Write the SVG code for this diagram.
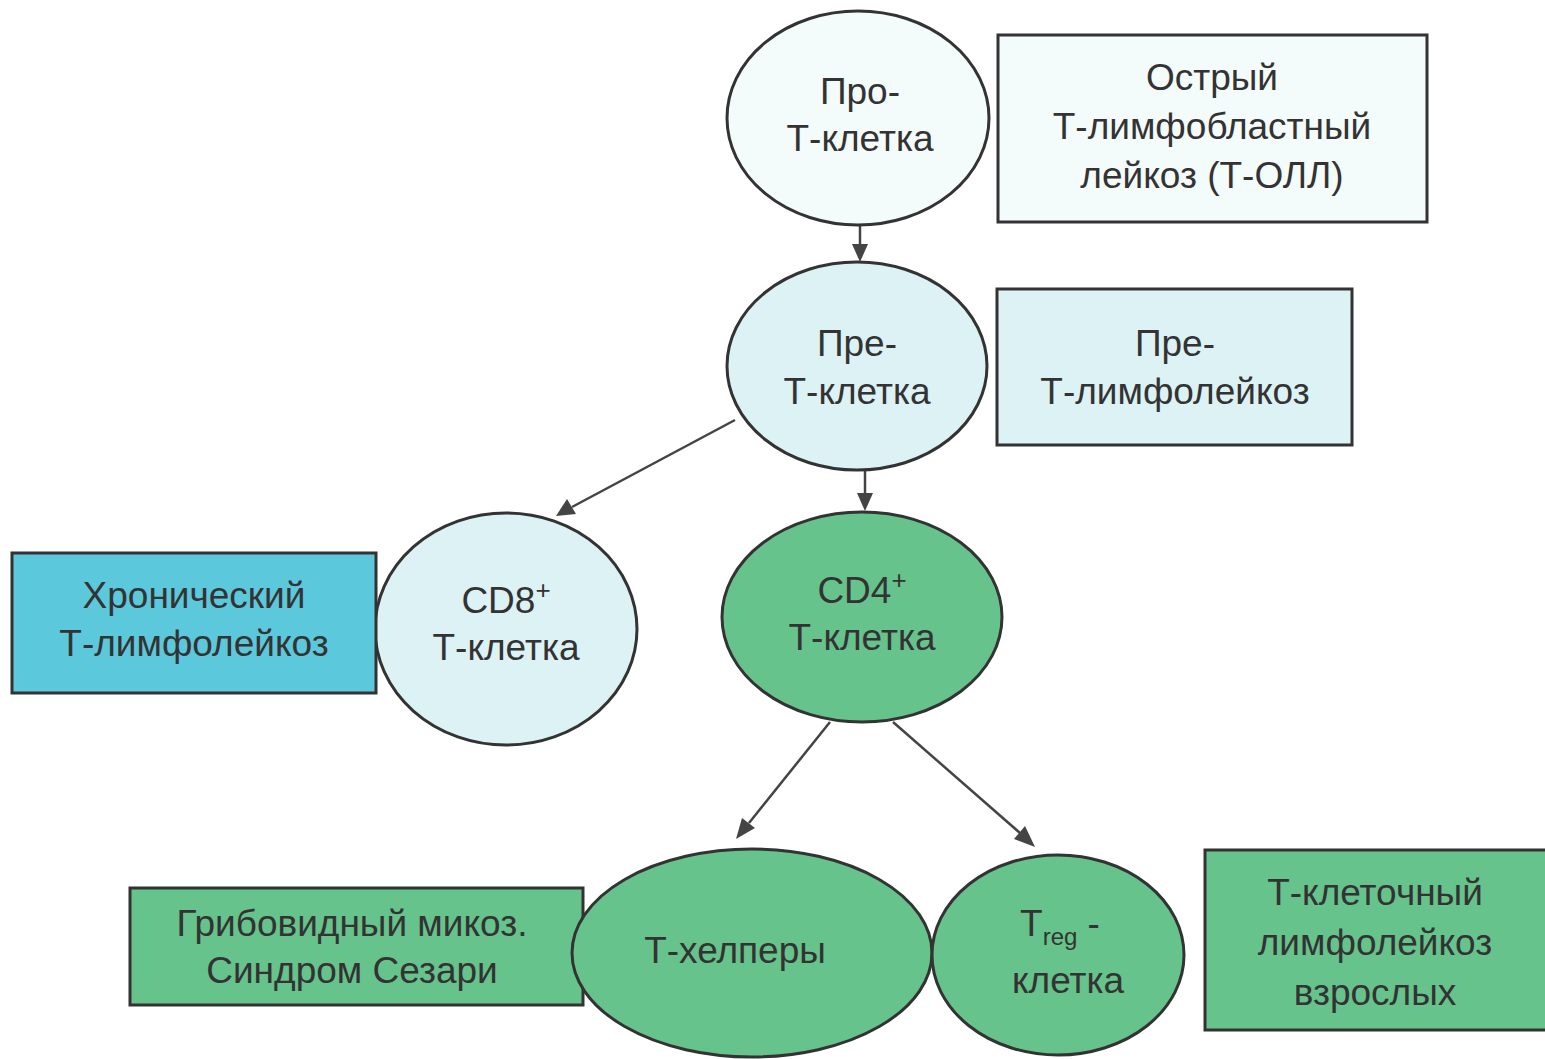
<svg xmlns="http://www.w3.org/2000/svg" width="1545" height="1059" viewBox="0 0 1545 1059">
<defs>
<style>
.t{font-family:"Liberation Sans",Arial,sans-serif;font-size:37px;fill:#333;text-anchor:middle}
.s{stroke:#333;stroke-width:3}
.pale{fill:#f4fbfb}
.lc{fill:#dcf2f4}
.cy{fill:#5cc8dc}
.gr{fill:#66c38b}
.ln{stroke:#444;stroke-width:2.5;fill:none}
.ah{fill:#444}
</style>
</defs>
<rect width="1545" height="1059" fill="#fff"/>
<g id="connectors">
<path class="ln" d="M860,226 L860,246"/>
<path class="ah" d="M852,244 L868,244 L860,262 z"/>
<path class="ln" d="M865,470 L865,495"/>
<path class="ah" d="M857,493 L873,493 L865,511 z"/>
<path class="ln" d="M735,420 L572,507"/>
<path class="ah" d="M556,516 L567,499 L576,514 z"/>
<path class="ln" d="M830,722 L749,823"/>
<path class="ah" d="M736,839 L742,818 L755,828 z"/>
<path class="ln" d="M893,722 L1020,833"/>
<path class="ah" d="M1035,847 L1014,839 L1025,826 z"/>
</g>
<g id="pro-t">
<ellipse class="s pale" cx="858" cy="118" rx="131" ry="107"/>
<text class="t" x="860" y="104">Про-</text>
<text class="t" x="860" y="151">Т-клетка</text>
</g>
<g id="t-all">
<rect class="s pale" x="998" y="35" width="429" height="187"/>
<text class="t" x="1212" y="90">Острый</text>
<text class="t" x="1212" y="139">Т-лимфобластный</text>
<text class="t" x="1212" y="188">лейкоз (Т-ОЛЛ)</text>
</g>
<g id="pre-t">
<ellipse class="s lc" cx="857" cy="366" rx="130" ry="104"/>
<text class="t" x="857" y="356">Пре-</text>
<text class="t" x="857" y="404">Т-клетка</text>
</g>
<g id="pre-t-leuk">
<rect class="s lc" x="997" y="289" width="355" height="156"/>
<text class="t" x="1175" y="356">Пре-</text>
<text class="t" x="1175" y="404">Т-лимфолейкоз</text>
</g>
<g id="cd8">
<ellipse class="s lc" cx="506" cy="629" rx="131" ry="116"/>
<text class="t" x="506" y="613">CD8<tspan dy="-14" font-size="26">+</tspan></text>
<text class="t" x="506" y="660">Т-клетка</text>
</g>
<g id="chronic">
<rect class="s cy" x="12" y="553" width="364" height="140"/>
<text class="t" x="194" y="608">Хронический</text>
<text class="t" x="194" y="656">Т-лимфолейкоз</text>
</g>
<g id="cd4">
<ellipse class="s gr" cx="862" cy="617" rx="140" ry="105"/>
<text class="t" x="862" y="603">CD4<tspan dy="-14" font-size="26">+</tspan></text>
<text class="t" x="862" y="650">Т-клетка</text>
</g>
<g id="mycosis">
<rect class="s gr" x="130" y="888" width="453" height="117"/>
<text class="t" x="352" y="936">Грибовидный микоз.</text>
<text class="t" x="352" y="983">Синдром Сезари</text>
</g>
<g id="t-helpers">
<ellipse class="s gr" cx="752" cy="953" rx="180" ry="104"/>
<text class="t" x="735" y="963">Т-хелперы</text>
</g>
<g id="treg">
<ellipse class="s gr" cx="1058" cy="955" rx="126" ry="100"/>
<text class="t" x="1060" y="936">T<tspan dy="9" font-size="24">reg</tspan><tspan dy="-9"> -</tspan></text>
<text class="t" x="1068" y="993">клетка</text>
</g>
<g id="atll">
<rect class="s gr" x="1205" y="850" width="345" height="180"/>
<text class="t" x="1375" y="905">Т-клеточный</text>
<text class="t" x="1375" y="955">лимфолейкоз</text>
<text class="t" x="1375" y="1005">взрослых</text>
</g>
</svg>
